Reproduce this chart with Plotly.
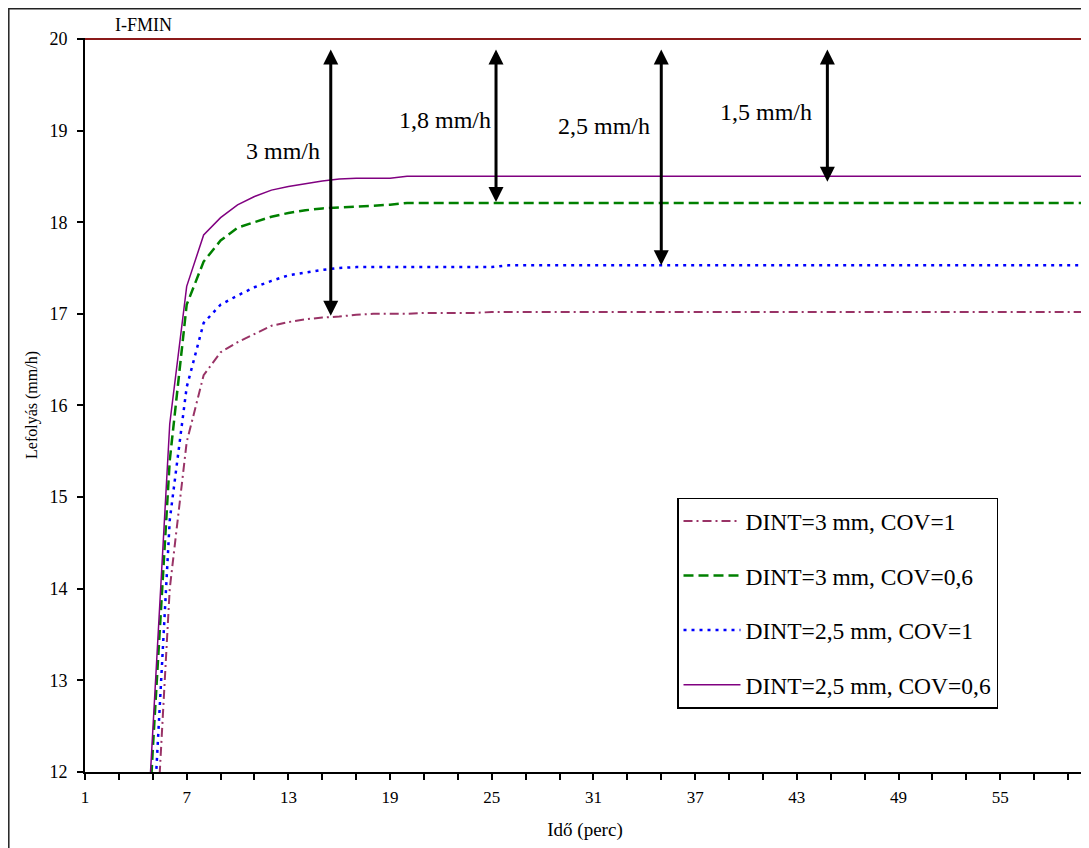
import plotly.graph_objects as go

# ---------------- data ----------------
time_min = [4, 5, 6, 7, 8, 9, 10, 11, 12, 13, 14, 15, 16, 17, 18, 19, 20,
            21, 22, 23, 24, 25, 26, 27, 28, 29, 30, 31, 32, 33, 34, 35, 36, 37, 38, 39, 40,
            41, 42, 43, 44, 45, 46, 47, 48, 49, 50, 51, 52, 53, 54, 55, 56, 57, 58, 59, 60]

dint3_cov1 = [7.0, 10.6, 14.0, 15.6, 16.33, 16.58, 16.69, 16.78, 16.87, 16.91, 16.94, 16.96, 16.97, 16.99, 17.0, 17.0, 17.0,
              17.01, 17.01, 17.01, 17.01, 17.02, 17.02, 17.02, 17.02, 17.02, 17.02, 17.02, 17.02, 17.02, 17.02, 17.02, 17.02, 17.02, 17.02, 17.02, 17.02,
              17.02, 17.02, 17.02, 17.02, 17.02, 17.02, 17.02, 17.02, 17.02, 17.02, 17.02, 17.02, 17.02, 17.02, 17.02, 17.02, 17.02, 17.02, 17.02, 17.02]

dint3_cov06 = [8.7, 12.25, 15.4, 17.1, 17.57, 17.8, 17.94, 18.0, 18.06, 18.1, 18.13, 18.15, 18.16, 18.17, 18.18, 18.19, 18.21,
               18.21, 18.21, 18.21, 18.21, 18.21, 18.21, 18.21, 18.21, 18.21, 18.21, 18.21, 18.21, 18.21, 18.21, 18.21, 18.21, 18.21, 18.21, 18.21, 18.21,
               18.21, 18.21, 18.21, 18.21, 18.21, 18.21, 18.21, 18.21, 18.21, 18.21, 18.21, 18.21, 18.21, 18.21, 18.21, 18.21, 18.21, 18.21, 18.21, 18.21]

dint25_cov1 = [7.5, 11.3, 14.75, 16.2, 16.9, 17.1, 17.2, 17.29, 17.36, 17.42, 17.45, 17.48, 17.5, 17.51, 17.51, 17.51, 17.51,
               17.51, 17.51, 17.51, 17.51, 17.51, 17.53, 17.53, 17.53, 17.53, 17.53, 17.53, 17.53, 17.53, 17.53, 17.53, 17.53, 17.53, 17.53, 17.53, 17.53,
               17.53, 17.53, 17.53, 17.53, 17.53, 17.53, 17.53, 17.53, 17.53, 17.53, 17.53, 17.53, 17.53, 17.53, 17.53, 17.53, 17.53, 17.53, 17.53, 17.53]

dint25_cov06 = [9.1, 12.4, 15.8, 17.3, 17.86, 18.05, 18.19, 18.28, 18.35, 18.39, 18.42, 18.45, 18.47, 18.48, 18.48, 18.48, 18.5,
                18.5, 18.5, 18.5, 18.5, 18.5, 18.5, 18.5, 18.5, 18.5, 18.5, 18.5, 18.5, 18.5, 18.5, 18.5, 18.5, 18.5, 18.5, 18.5, 18.5,
                18.5, 18.5, 18.5, 18.5, 18.5, 18.5, 18.5, 18.5, 18.5, 18.5, 18.5, 18.5, 18.5, 18.5, 18.5, 18.5, 18.5, 18.5, 18.5, 18.5]

ifmin_time = [1, 60]
ifmin_value = 20

series_names = ["DINT=3 mm, COV=1", "DINT=3 mm, COV=0,6", "DINT=2,5 mm, COV=1", "DINT=2,5 mm, COV=0,6"]

arrow_x = [15.5, 25.25, 35, 44.8]
arrow_top = [19.9, 19.9, 19.9, 19.9]
arrow_bottom = [16.98, 18.22, 17.53, 18.44]
arrow_labels = ["3 mm/h", "1,8 mm/h", "2,5 mm/h", "1,5 mm/h"]
label_x = [12.69, 22.23, 31.64, 41.17]
label_y = [18.78, 19.12, 19.05, 19.2]

# ---------------- figure ----------------
FONT = "Liberation Serif"

fig = go.Figure()

fig.add_trace(go.Scatter(x=ifmin_time, y=[ifmin_value] * len(ifmin_time), mode="lines",
                         line=dict(color="#8B1A1A", width=2), showlegend=False, hoverinfo="skip"))

styles = [
    dict(color="#993366", width=2, dash="9px,4px,2px,4px"),
    dict(color="#008000", width=2.5, dash="10px,5px"),
    dict(color="#0000FF", width=2.5, dash="3px,5px"),
    dict(color="#800080", width=1.5, dash="solid"),
]
for i, (vals, name) in enumerate(zip([dint3_cov1, dint3_cov06, dint25_cov1, dint25_cov06], series_names)):
    fig.add_trace(go.Scatter(x=time_min, y=vals, mode="lines", name=name,
                             line=styles[i], legendgroup=f"g{i}"))

annotations = []
for xa, yt, yb in zip(arrow_x, arrow_top, arrow_bottom):
    annotations.append(dict(x=xa, y=yb, ax=xa, ay=yt, xref="x", yref="y", axref="x", ayref="y",
                            text="", showarrow=True, arrowside="end+start",
                            arrowhead=2, startarrowhead=2, arrowsize=1, startarrowsize=1,
                            arrowwidth=3, arrowcolor="black", standoff=0, startstandoff=0))
for lx, ly, lt in zip(label_x, label_y, arrow_labels):
    annotations.append(dict(x=lx, y=ly, xref="x", yref="y", text=lt, showarrow=False,
                            font=dict(family=FONT, size=24, color="black")))
annotations.append(dict(x=0.058, y=1.0177, xref="paper", yref="paper", text="I-FMIN", showarrow=False,
                        xanchor="center", yanchor="middle",
                        font=dict(family=FONT, size=18, color="black")))

# page has an 8px body margin, so the figure is drawn 8px right/down of the window origin
fig.update_layout(
    width=1081, height=840,
    margin=dict(l=77, r=4, t=30, b=76, autoexpand=False),
    paper_bgcolor="white", plot_bgcolor="white",
    font=dict(family=FONT, size=18, color="black"),
    showlegend=True,
    legend=dict(x=0.592, y=0.3737, xanchor="left", yanchor="top",
                bgcolor="white", bordercolor="black", borderwidth=1.5,
                font=dict(family=FONT, size=23.5, color="black"),
                traceorder="grouped", tracegroupgap=21, itemwidth=57),
    annotations=annotations,
    shapes=[dict(type="rect", xref="paper", yref="paper", x0=-0.0762, x1=1.2, y0=-0.3, y1=1.0398,
                 line=dict(color="#222222", width=1.5), fillcolor="rgba(0,0,0,0)", layer="above")],
)

fig.update_xaxes(range=[1, 60], tick0=1, dtick=6, ticks="outside", ticklen=6, tickwidth=1.5,
                 tickcolor="black", showline=True, linecolor="black", linewidth=2,
                 showgrid=False, zeroline=False, ticklabelstandoff=3, automargin=False,
                 tickfont=dict(family=FONT, size=17),
                 minor=dict(dtick=2, tick0=1, ticks="outside", ticklen=6, tickwidth=1.5, tickcolor="black", showgrid=False),
                 title=dict(text="Idő (perc)", font=dict(family=FONT, size=19), standoff=16))
fig.update_yaxes(range=[12, 20.01], tick0=12, dtick=1, ticks="outside", ticklen=6, tickwidth=1.5,
                 tickcolor="black", showline=True, linecolor="black", linewidth=2, mirror=True,
                 showgrid=False, zeroline=False, ticklabelstandoff=6, automargin=False,
                 tickfont=dict(family=FONT, size=18),
                 title=dict(text="Lefolyás (mm/h)", font=dict(family=FONT, size=16), standoff=8))

fig.write_html("out.html")
